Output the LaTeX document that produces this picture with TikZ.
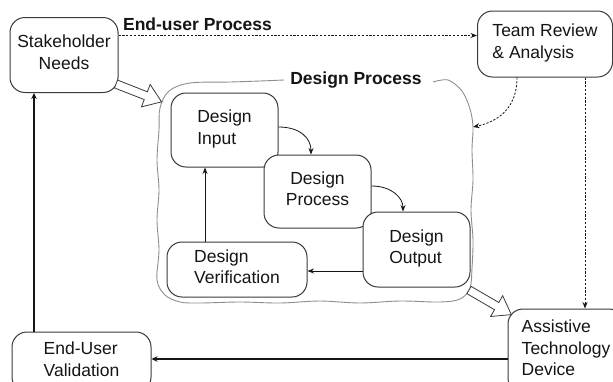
\documentclass[tikz,border=0pt]{standalone}
\usepackage{fontspec}
\setmainfont{Liberation Sans}
\usetikzlibrary{arrows.meta,calc}

\definecolor{ink}{HTML}{151515}
\definecolor{edge}{HTML}{3A3A3A}
\definecolor{wash}{HTML}{8E8E8E}

\begin{document}
\begin{tikzpicture}[x=1pt,y=-1pt,
  font=\fontsize{17.5}{21.5}\selectfont,
  box/.style={draw=edge, line width=1pt, rounded corners=15pt, fill=white,
    text=ink, inner sep=0pt, align=left, text depth=6pt},
  flow/.style={draw=ink, line width=0.8pt, -{Stealth[length=6.5pt,width=5pt]}},
  dashflow/.style={flow, dash pattern=on 2.2pt off 1.6pt},
  heavyflow/.style={draw=ink, line width=1.6pt, -{Stealth[length=6pt,width=5.5pt]}},
  blockarrow/.style={draw=edge, fill=white, line width=0.8pt, line join=miter},
  region/.style={draw=wash, line width=0.9pt},
  heading/.style={font=\fontsize{17.5}{21.5}\selectfont\bfseries, text=ink, inner sep=0pt}]

\clip (0,0) rectangle (613,381);
\fill[white] (0,0) rectangle (613,381);

% boundary of the design process
\draw[region] plot[smooth, tension=0.55] coordinates {
  (433,82) (448,80) (462,91) (470,109) (473,127) (472,150) (473,180)
  (471,210) (473,240) (472,268) (470,288) (460,299) (440,302) (400,301)
  (360,303) (320,301) (280,303) (240,302) (200,303) (180,302) (165,295)
  (157,280) (159,250) (157,220) (159,190) (157,160) (159,130) (160,108)
  (169,91) (190,83) (230,82) (260,81) (284,80)};
\coordinate (regionin) at (473,127);

\node[heading] (dplabel) at (356,80) {Design Process};
\node[heading] (eulabel) at (197.5,24) {End-user Process};

% outer loop
\node[box, align=center, minimum width=108pt, minimum height=75pt] (sh) at (64,55) {Stakeholder\\Needs};
\node[box, minimum width=135pt, minimum height=66pt] (tr) at (545,44) {Team Review\\\& Analysis};
\node[box, minimum width=139pt, minimum height=60pt] (eu) at (81.5,362) {End-User\\Validation};
\node[box, minimum width=116pt, minimum height=84pt] (at) at (566,351) {Assistive\\Technology\\Device};

% inner design loop
\node[box, minimum width=107pt, minimum height=74pt] (di) at (224.5,130) {Design\\Input};
\node[box, align=center, minimum width=107pt, minimum height=73pt] (dp) at (317.5,191.5) {Design\\Process};
\node[box, minimum width=107pt, minimum height=75pt] (do) at (416.5,249.5) {Design\\Output};
\node[box, minimum width=140pt, minimum height=55pt] (dv) at (237,269.5) {Design\\Verification};

% helper levels for straight connectors
\coordinate (toprow) at (0,35.5);
\coordinate (downx) at (585,0);
\coordinate (curvex) at (517,0);
\coordinate (c1) at (311,0);
\coordinate (c2) at (403,0);
\coordinate (backrow) at (0,271);
\coordinate (upx) at (205,0);
\coordinate (bottomrow) at (0,359);
\coordinate (leftx) at (34,0);

% end-user process connectors
\draw[dashflow] (sh.east |- toprow) -- (tr.west |- toprow);
\draw[dashflow] (tr.south -| downx) -- (at.north -| downx);
\draw[dashflow] (tr.south -| curvex) .. controls (517,110) and (496,122) .. (regionin);
\draw[heavyflow] (at.west |- bottomrow) -- (eu.east |- bottomrow);
\draw[heavyflow] (eu.north -| leftx) -- (sh.south -| leftx);

% design loop connectors
\draw[flow] ([yshift=3pt]di.east) .. controls (300,127) and (311,138) .. (dp.north -| c1);
\draw[flow] ([yshift=5.5pt]dp.east) .. controls (392,186) and (403,198) .. (do.north -| c2);
\draw[flow] (do.west |- backrow) -- (dv.east |- backrow);
\draw[flow] (dv.north -| upx) -- (di.south -| upx);

% hollow arrows into and out of the design process
\begin{scope}[shift={(116,84)}, rotate=-21.4]
  \draw[blockarrow] (0,-4.2) -- (32,-4.2) -- (32,-12) -- (49,0) -- (32,12) -- (32,4.2) -- (0,4.2) -- cycle;
\end{scope}
\begin{scope}[shift={(469,290)}, rotate=-30.2]
  \draw[blockarrow] (0,-4.2) -- (32,-4.2) -- (32,-12) -- (49,0) -- (32,12) -- (32,4.2) -- (0,4.2) -- cycle;
\end{scope}
\end{tikzpicture}
\end{document}
